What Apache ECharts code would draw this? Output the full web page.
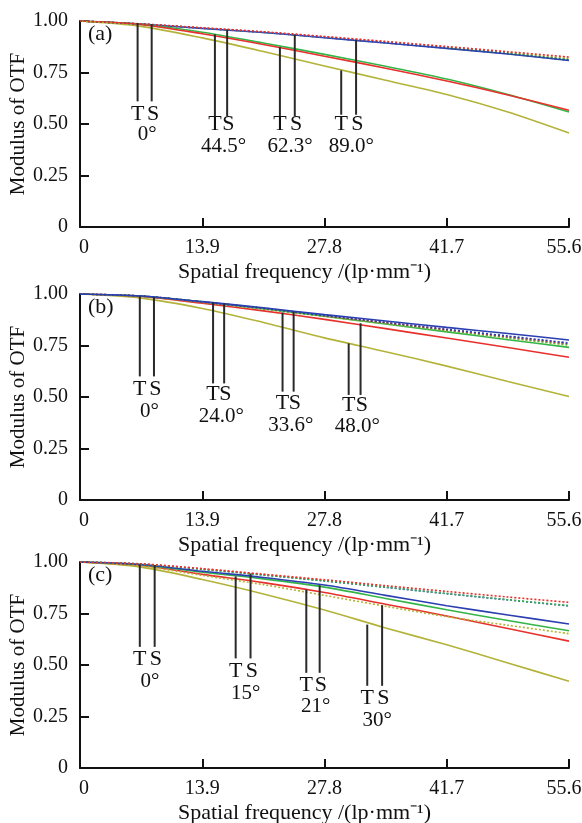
<!DOCTYPE html>
<html>
<head>
<meta charset="utf-8">
<script src="https://cdn.jsdelivr.net/npm/echarts@6/dist/echarts.min.js"></script>
<style>
  html, body { margin: 0; padding: 0; background: #fff; }
  #chart { width: 582px; height: 823px; }
</style>
</head>
<body>
<div id="chart"></div>
<script>
// Sample frequencies (lp/mm) shared by every curve
const freq = [0, 6.95, 13.9, 20.85, 27.8, 34.75, 41.7, 48.65, 55.6];
const xTickLabels = ['0', '13.9', '27.8', '41.7', '55.6'];
const yTickLabels = ['0', '0.25', '0.50', '0.75', '1.00'];

// Panel (a)
const aBlueT   = [1, 0.985, 0.964, 0.944, 0.919, 0.893, 0.867, 0.840, 0.808];
const aBlueS   = [1, 0.985, 0.965, 0.945, 0.920, 0.894, 0.868, 0.841, 0.810];
const aGreenT  = [1, 0.984, 0.945, 0.893, 0.838, 0.780, 0.718, 0.643, 0.558];
const aGreenS  = [1, 0.985, 0.965, 0.945, 0.921, 0.896, 0.870, 0.843, 0.813];
const aRedT    = [1, 0.982, 0.938, 0.886, 0.829, 0.771, 0.709, 0.641, 0.567];
const aRedS    = [1, 0.986, 0.967, 0.948, 0.925, 0.901, 0.876, 0.851, 0.825];
const aYellowT = [1, 0.974, 0.918, 0.852, 0.782, 0.712, 0.643, 0.558, 0.456];
const aYellowS = [1, 0.985, 0.966, 0.946, 0.922, 0.897, 0.872, 0.846, 0.817];
const aAngles  = ['0°', '44.5°', '62.3°', '89.0°'];
const aLineX   = [6.55, 8.15, 15.34, 16.73, 22.73, 24.42, 29.70, 31.39];
const aLineTop = [0.990, 0.985, 0.935, 0.958, 0.873, 0.934, 0.760, 0.907];
const aLineBot = [0.61, 0.61, 0.537, 0.537, 0.537, 0.537, 0.545, 0.545];
const aLetterY = [0.549, 0.497, 0.497, 0.497];
const aAngleY  = [0.448, 0.392, 0.392, 0.392];

// Panel (b)
const bBlueT   = [1, 0.990, 0.963, 0.933, 0.900, 0.869, 0.838, 0.808, 0.777];
const bBlueS   = [1, 0.990, 0.962, 0.931, 0.896, 0.862, 0.829, 0.796, 0.762];
const bGreenT  = [1, 0.990, 0.962, 0.929, 0.892, 0.854, 0.816, 0.778, 0.741];
const bGreenS  = [1, 0.989, 0.960, 0.928, 0.893, 0.858, 0.823, 0.789, 0.754];
const bRedT    = [1, 0.988, 0.955, 0.918, 0.877, 0.832, 0.786, 0.740, 0.693];
const bRedS    = [1, 0.990, 0.961, 0.930, 0.895, 0.861, 0.827, 0.793, 0.759];
const bYellowT = [1, 0.980, 0.930, 0.862, 0.787, 0.720, 0.650, 0.575, 0.502];
const bYellowS = [1, 0.989, 0.959, 0.927, 0.891, 0.856, 0.821, 0.786, 0.751];
const bAngles  = ['0°', '24.0°', '33.6°', '48.0°'];
const bLineX   = [6.80, 8.41, 15.13, 16.39, 23.03, 24.29, 30.55, 31.90];
const bLineTop = [0.988, 0.985, 0.960, 0.955, 0.910, 0.914, 0.760, 0.858];
const bLineBot = [0.60, 0.60, 0.566, 0.566, 0.526, 0.526, 0.51, 0.51];
const bLetterY = [0.537, 0.515, 0.469, 0.461];
const bAngleY  = [0.429, 0.405, 0.364, 0.356];

// Panel (c)
const cBlueT   = [1, 0.988, 0.955, 0.925, 0.888, 0.838, 0.788, 0.743, 0.699];
const cBlueS   = [1, 0.990, 0.965, 0.937, 0.908, 0.877, 0.846, 0.816, 0.787];
const cGreenT  = [1, 0.987, 0.950, 0.918, 0.878, 0.823, 0.768, 0.716, 0.666];
const cGreenS  = [1, 0.990, 0.965, 0.937, 0.909, 0.878, 0.847, 0.817, 0.788];
const cRedT    = [1, 0.983, 0.940, 0.900, 0.852, 0.795, 0.738, 0.677, 0.616];
const cRedS    = [1, 0.991, 0.968, 0.941, 0.914, 0.885, 0.857, 0.830, 0.804];
const cYellowT = [1, 0.975, 0.915, 0.845, 0.767, 0.680, 0.598, 0.510, 0.421];
const cYellowS = [1, 0.980, 0.935, 0.890, 0.838, 0.785, 0.735, 0.693, 0.652];
const cAngles  = ['0°', '15°', '21°', '30°'];
const cLineX   = [6.80, 8.49, 17.70, 19.39, 25.73, 27.25, 32.66, 34.35];
const cLineTop = [0.988, 0.985, 0.930, 0.944, 0.866, 0.887, 0.696, 0.790];
const cLineBot = [0.588, 0.588, 0.532, 0.532, 0.462, 0.462, 0.399, 0.399];
const cLetterY = [0.527, 0.472, 0.402, 0.340];
const cAngleY  = [0.421, 0.361, 0.297, 0.232];

const BLUE = '#2b3fb0', GREEN = '#33b548', RED = '#e8302c', YELLOW = '#b3b33a';
const serif = '"Liberation Serif", "Times New Roman", serif';
const ink = '#111';

const panels = [
  { tag: '(a)', top: 21, curves: [
      [aBlueT, BLUE, false], [aGreenT, GREEN, false], [aRedT, RED, false], [aYellowT, YELLOW, false],
      [aYellowS, YELLOW, true], [aGreenS, GREEN, true], [aBlueS, BLUE, true], [aRedS, RED, true]],
    angles: aAngles, lineX: aLineX, lineTop: aLineTop, lineBot: aLineBot, letterY: aLetterY, angleY: aAngleY },
  { tag: '(b)', top: 294, curves: [
      [bYellowT, YELLOW, false], [bRedT, RED, false], [bGreenT, GREEN, false],
      [bYellowS, YELLOW, true], [bGreenS, GREEN, true], [bRedS, RED, true], [bBlueS, BLUE, true], [bBlueT, BLUE, false]],
    angles: bAngles, lineX: bLineX, lineTop: bLineTop, lineBot: bLineBot, letterY: bLetterY, angleY: bAngleY },
  { tag: '(c)', top: 562, curves: [
      [cYellowT, YELLOW, false], [cRedT, RED, false], [cYellowS, YELLOW, true], [cGreenT, GREEN, false],
      [cBlueT, BLUE, false], [cBlueS, BLUE, true], [cGreenS, GREEN, true], [cRedS, RED, true]],
    angles: cAngles, lineX: cLineX, lineTop: cLineTop, lineBot: cLineBot, letterY: cLetterY, angleY: cAngleY }
];

// first and last x tick labels sit a little inward, as in the figure
function xTickFormatter(v) {
  const k = Math.round(v / 13.9);
  const txt = xTickLabels[k];
  if (k === 0) return '{first|' + txt + '}';
  if (k === xTickLabels.length - 1) return '{last|' + txt + '}';
  return txt;
}

const grids = [], xAxes = [], yAxes = [], series = [], graphics = [];

panels.forEach((p, i) => {
  grids.push({ left: 80, right: 13, top: p.top, height: 206, outerBoundsMode: 'none', containLabel: false });

  xAxes.push({
    gridIndex: i, type: 'value', min: 0, max: 55.6, interval: 13.9,
    axisLine: { lineStyle: { color: ink, width: 2 } },
    axisTick: { inside: true, length: 9, lineStyle: { color: ink, width: 2 } },
    axisLabel: {
      color: ink, fontFamily: serif, fontSize: 20, margin: 11,
      showMinLabel: true, showMaxLabel: true,
      formatter: xTickFormatter,
      rich: {
        first: { fontFamily: serif, fontSize: 20, color: ink, padding: [0, 0, 0, 8] },
        last: { fontFamily: serif, fontSize: 20, color: ink, padding: [0, 10, 0, 0] }
      }
    },
    splitLine: { show: false },
    name: 'Spatial frequency /(lp·mm⁻¹)',
    nameLocation: 'middle', nameGap: 34, nameMoveOverlap: false,
    nameTextStyle: { color: ink, fontFamily: serif, fontSize: 22, padding: [0, 40, 0, 0] }
  });

  yAxes.push({
    gridIndex: i, type: 'value', min: 0, max: 1, interval: 0.25,
    axisLine: { show: true, lineStyle: { color: ink, width: 2 } },
    axisTick: { show: true, inside: true, length: 9, lineStyle: { color: ink, width: 2 } },
    axisLabel: {
      color: ink, fontFamily: serif, fontSize: 20, margin: 12,
      formatter: v => yTickLabels[Math.round(v / 0.25)]
    },
    splitLine: { show: false },
    name: 'Modulus of OTF', nameLocation: 'middle', nameGap: 51, nameRotate: 90,
    nameMoveOverlap: false,
    nameTextStyle: { color: ink, fontFamily: serif, fontSize: 21 }
  });

  // MTF curves: solid = tangential, dotted = sagittal
  p.curves.forEach(([vals, color, dotted]) => {
    series.push({
      type: 'line', xAxisIndex: i, yAxisIndex: i,
      data: freq.map((f, k) => [f, vals[k]]),
      smooth: 0.3, symbol: 'none', silent: true,
      lineStyle: { color, width: 1.6, type: dotted ? [2, 2] : 'solid' }
    });
  });

  // leader lines from the field labels up to the curves
  p.lineX.forEach((x, k) => {
    series.push({
      type: 'line', xAxisIndex: i, yAxisIndex: i,
      data: [[x, p.lineTop[k]], [x, p.lineBot[k]]],
      symbol: 'none', silent: true,
      lineStyle: { color: '#2a2a2a', width: 2 }
    });
  });

  const letters = [], angleMarks = [];
  p.angles.forEach((a, g) => {
    const xT = p.lineX[2 * g], xS = p.lineX[2 * g + 1];
    letters.push({ name: 'T', value: [xT, p.letterY[g]] });
    letters.push({ name: 'S', value: [xS + 0.15, p.letterY[g]] });
    angleMarks.push({ name: a, value: [(xT + xS) / 2 + 0.3, p.angleY[g]] });
  });
  [[letters, 22], [angleMarks, 21]].forEach(([d, size]) => {
    series.push({
      type: 'scatter', xAxisIndex: i, yAxisIndex: i, data: d,
      symbolSize: 0, silent: true,
      itemStyle: { opacity: 1 },
      label: {
        show: true, position: 'inside', formatter: '{b}',
        color: ink, fontFamily: serif, fontSize: size
      }
    });
  });

  graphics.push({
    type: 'text', left: 88, top: p.top + 2,
    style: { text: p.tag, font: '22px ' + serif, fill: ink }
  });
});

const chart = echarts.init(document.getElementById('chart'), null, { renderer: 'canvas' });
chart.setOption({
  animation: false,
  backgroundColor: '#fff',
  grid: grids,
  xAxis: xAxes,
  yAxis: yAxes,
  series: series,
  graphic: graphics
});
</script>
</body>
</html>
